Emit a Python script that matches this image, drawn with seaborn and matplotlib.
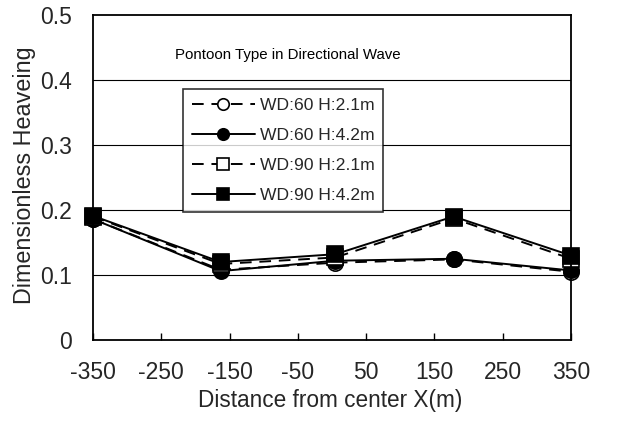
import matplotlib
matplotlib.use("Agg")
import matplotlib.pyplot as plt
import seaborn as sns
import pandas as pd

# Measurement positions along the pontoon (m)
x_pos = [-350, -163, 5, 178, 350]

# Dimensionless heave response for each case
wd60_h21 = [0.186, 0.108, 0.119, 0.124, 0.105]
wd60_h42 = [0.186, 0.106, 0.122, 0.125, 0.107]
wd90_h21 = [0.190, 0.117, 0.127, 0.187, 0.125]
wd90_h42 = [0.191, 0.120, 0.132, 0.190, 0.130]

series_labels = ["WD:60 H:2.1m", "WD:60 H:4.2m", "WD:90 H:2.1m", "WD:90 H:4.2m"]
series_values = [wd60_h21, wd60_h42, wd90_h21, wd90_h42]

x_ticks = [-350, -250, -150, -50, 50, 150, 250, 350]
y_ticks = [0, 0.1, 0.2, 0.3, 0.4, 0.5]

sns.set_theme(style="white")
plt.rcParams["font.family"] = ["Liberation Sans", "DejaVu Sans"]

fig = plt.figure(figsize=(6.17, 4.23), dpi=100)
ax = fig.add_axes([0.1507, 0.1962, 0.7747, 0.7683])

styles = [
    dict(marker="o", markerfacecolor="white", linestyle=(0, (6, 4))),
    dict(marker="o", markerfacecolor="black", linestyle="-"),
    dict(marker="s", markerfacecolor="white", linestyle=(0, (6, 4))),
    dict(marker="s", markerfacecolor="black", linestyle="-"),
]

for label, vals, st in zip(series_labels, series_values, styles):
    df = pd.DataFrame({"x": x_pos, "y": vals})
    sns.lineplot(data=df, x="x", y="y", ax=ax, color="black", linewidth=1.4,
                 marker=st["marker"], markersize=11,
                 markerfacecolor=st["markerfacecolor"],
                 markeredgecolor="black", markeredgewidth=1.2,
                 linestyle=st["linestyle"], label=label, clip_on=False,
                 legend=False)

ax.set_xlim(-350, 350)
ax.set_ylim(0, 0.5)
ax.set_xticks(x_ticks)
ax.set_xticklabels([str(t) for t in x_ticks])
ax.set_yticks(y_ticks)
ax.set_yticklabels(["0", "0.1", "0.2", "0.3", "0.4", "0.5"])

for yv in y_ticks[1:-1]:
    ax.axhline(yv, color="black", linewidth=0.8, zorder=0)

for sp in ax.spines.values():
    sp.set_color("black")
    sp.set_linewidth(1.3)

ax.tick_params(axis="x", direction="in", length=5, width=1, color="black",
               labelsize=16.5, pad=15, bottom=True)
ax.tick_params(axis="y", length=0, labelsize=16.5, pad=15, left=False)

ax.set_xlabel("Distance from center X(m)", fontsize=16.3)
ax.set_ylabel("Dimensionless Heaveing", fontsize=16.8)
ax.xaxis.set_label_coords(0.496, -0.185)
ax.yaxis.set_label_coords(-0.144, 0.508)
ax.xaxis.label.set_va("center")
ax.yaxis.label.set_va("center")

ax.text(0.172, 0.876, "Pontoon Type in Directional Wave", transform=ax.transAxes,
        ha="left", va="center", fontsize=10.8, color="black")

handles = ax.get_lines()[:4]
leg = ax.legend(handles=handles, labels=series_labels, loc="upper left",
                bbox_to_anchor=(0.188, 0.773), fontsize=12.6, frameon=True,
                fancybox=False, edgecolor="black", handlelength=3.6,
                handletextpad=0.3, labelspacing=0.85, borderpad=0.5,
                borderaxespad=0, markerscale=0.75)
leg.get_frame().set_linewidth(1.2)

fig.savefig("out.png", dpi=100)
